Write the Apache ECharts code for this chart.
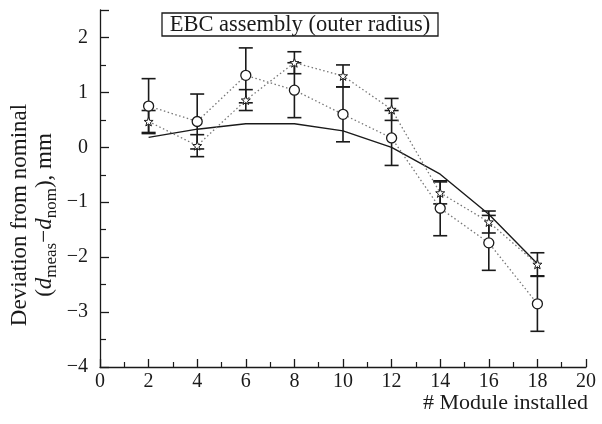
<!DOCTYPE html>
<html>
<head>
<meta charset="utf-8">
<script src="https://cdn.jsdelivr.net/npm/echarts@6/dist/echarts.min.js"></script>
<style>html,body{margin:0;padding:0;background:#fff;}#c{width:602px;height:424px;}</style>
</head>
<body>
<div id="c"></div>
<script>
var modules = [2, 4, 6, 8, 10, 12, 14, 16, 18];
var circleVals = [0.75, 0.47, 1.31, 1.04, 0.60, 0.17, -1.11, -1.74, -2.85];
var circleErr = [0.5, 0.5, 0.5, 0.5, 0.5, 0.5, 0.5, 0.5, 0.5];
var starVals = [0.47, 0.03, 0.86, 1.54, 1.30, 0.69, -0.83, -1.36, -2.13];
var starErr = [0.2, 0.2, 0.19, 0.2, 0.2, 0.2, 0.2, 0.2, 0.21];
var solidVals = [0.18, 0.33, 0.43, 0.43, 0.30, 0.0, -0.49, -1.22, -2.12];
var xTicks = [0, 2, 4, 6, 8, 10, 12, 14, 16, 18, 20];
var yTicks = [-4, -3, -2, -1, 0, 1, 2];
var titleText = 'EBC assembly (outer radius)';
var xName = '# Module installed';

var FONT = '"Liberation Serif", "DejaVu Serif", serif';
var chart = echarts.init(document.getElementById('c'));

function pairs(vals) { return modules.map(function (m, i) { return [m, vals[i]]; }); }
function errData(vals, errs) { return modules.map(function (m, i) { return [m, vals[i] - errs[i], vals[i] + errs[i]]; }); }

function errRender(params, api) {
  var x = api.value(0), lo = api.value(1), hi = api.value(2);
  var p1 = api.coord([x, hi]), p2 = api.coord([x, lo]);
  var w = 7;
  var st = { stroke: '#1a1a1a', lineWidth: 1.6 };
  return { type: 'group', children: [
    { type: 'line', shape: { x1: p1[0], y1: p1[1], x2: p2[0], y2: p2[1] }, style: st },
    { type: 'line', shape: { x1: p1[0] - w, y1: p1[1], x2: p1[0] + w, y2: p1[1] }, style: st },
    { type: 'line', shape: { x1: p2[0] - w, y1: p2[1], x2: p2[0] + w, y2: p2[1] }, style: st }
  ] };
}

var starPath = 'path://M0,-10 L2.35,-3.24 L9.51,-3.09 L3.8,1.24 L5.88,8.09 L0,4 L-5.88,8.09 L-3.8,1.24 L-9.51,-3.09 L-2.35,-3.24 Z';

chart.setOption({
  animation: false,
  backgroundColor: '#fff',
  grid: { left: 100, right: 16, top: 10, bottom: 57 },
  xAxis: {
    type: 'value', min: 0, max: 20, interval: 2,
    axisLine: { show: true, onZero: false, lineStyle: { color: '#1a1a1a', width: 1.3 } },
    axisTick: { show: true, inside: true, length: 8, lineStyle: { color: '#1a1a1a', width: 1.3 } },
    minorTick: { show: true, splitNumber: 2, length: 5, lineStyle: { color: '#1a1a1a', width: 1.2 } },
    splitLine: { show: false },
    axisLabel: { color: '#1a1a1a', fontFamily: FONT, fontSize: 20, margin: 5,
      formatter: function (v) { return xTicks.indexOf(v) >= 0 ? String(v) : ''; } }
  },
  yAxis: {
    type: 'value', min: -4, max: 2.5, interval: 1,
    axisLine: { show: true, onZero: false, lineStyle: { color: '#1a1a1a', width: 1.3 } },
    axisTick: { show: true, inside: true, length: 9, lineStyle: { color: '#1a1a1a', width: 1.3 } },
    minorTick: { show: true, splitNumber: 2, length: 6, lineStyle: { color: '#1a1a1a', width: 1.2 } },
    splitLine: { show: false },
    axisLabel: { color: '#1a1a1a', fontFamily: FONT, fontSize: 20, margin: 12, showMaxLabel: false,
      formatter: function (v) { return yTicks.indexOf(v) >= 0 ? String(v).replace('-', '\u2212') : ''; } }
  },
  graphic: [
    { type: 'rect', shape: { x: 162, y: 13, width: 276, height: 23 }, style: { fill: '#fff', stroke: '#1a1a1a', lineWidth: 1.3 }, z: 10 },
    { type: 'text', x: 300, y: 25, z: 11, style: { text: titleText, font: '22.5px ' + FONT, fill: '#1a1a1a', align: 'center', verticalAlign: 'middle' } },
    { type: 'text', x: 588, y: 403, style: { text: xName, font: '22px ' + FONT, fill: '#1a1a1a', align: 'right', verticalAlign: 'middle' } },
    { type: 'text', x: 20, y: 215, rotation: Math.PI / 2, style: { text: 'Deviation from nominal', font: '23px ' + FONT, fill: '#1a1a1a', align: 'center', verticalAlign: 'middle' } },
    { type: 'text', x: 45, y: 215, rotation: Math.PI / 2, style: {
      text: '({d|d}{s|meas}\u2212{d|d}{s|nom}), mm', font: '23px ' + FONT, fill: '#1a1a1a', align: 'center', verticalAlign: 'middle',
      rich: {
        d: { fontFamily: FONT, fontSize: 23, fontStyle: 'italic', fill: '#1a1a1a', lineHeight: 30 },
        s: { fontFamily: FONT, fontSize: 17, fill: '#1a1a1a', lineHeight: 16, verticalAlign: 'bottom' }
      } } }
  ],
  series: [
    { type: 'custom', name: 'circleErr', renderItem: errRender, data: errData(circleVals, circleErr), encode: { x: 0, y: [1, 2] }, z: 1 },
    { type: 'custom', name: 'starErr', renderItem: errRender, data: errData(starVals, starErr), encode: { x: 0, y: [1, 2] }, z: 1 },
    { type: 'line', name: 'model', data: pairs(solidVals), showSymbol: false, symbol: 'none',
      lineStyle: { color: '#1a1a1a', width: 1.4 }, z: 2 },
    { type: 'line', name: 'circles', data: pairs(circleVals), symbol: 'circle', symbolSize: 10,
      itemStyle: { color: '#fff', borderColor: '#1a1a1a', borderWidth: 1.3 },
      lineStyle: { color: '#777', width: 1.3, type: [1.5, 2.5] }, z: 3 },
    { type: 'line', name: 'stars', data: pairs(starVals), symbol: starPath, symbolSize: 9,
      itemStyle: { color: '#fff', borderColor: '#1a1a1a', borderWidth: 1 },
      lineStyle: { color: '#777', width: 1.3, type: [1.5, 2.5] }, z: 3 }
  ]
});
</script>
</body>
</html>
